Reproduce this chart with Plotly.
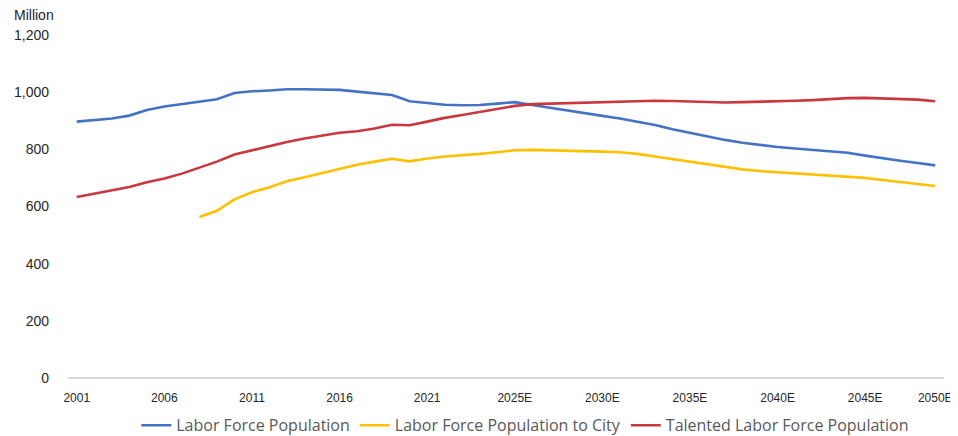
import plotly.graph_objects as go

# one point per year, 2001 .. 2050E
years = list(range(2001, 2051))

labor_force = [
    897, 902, 908, 918, 938, 950, 958, 965, 975, 997,
    1003, 1006, 1010, 1010, 1010, 1008, 1002, 996, 990, 968,
    963, 956, 954, 955, 960, 965, 955, 945, 935, 925,
    917, 908, 897, 885, 870, 857, 845, 833, 823, 815,
    808, 803, 798, 794, 788, 778, 768, 760, 752, 744,
]

# starts in 2008
labor_force_city = [None] * 7 + [
    563, 585, 625, 650, 667, 688, 702, 717, 733, 746,
    757, 767, 758, 768, 775, 779, 784, 790, 797, 798,
    797, 795, 793, 792, 790, 784, 775, 766, 756, 747,
    738, 730, 724, 720, 717, 714, 710, 705, 700, 693,
    686, 679, 672,
]

talented_labor_force = [
    633, 645, 656, 668, 685, 698, 715, 735, 757, 782,
    797, 812, 826, 838, 848, 858, 863, 873, 886, 884,
    897, 910, 920, 930, 940, 952, 958, 960, 962, 964,
    966, 968, 970, 970, 969, 967, 964, 964, 965, 966,
    967, 970, 972, 976, 979, 980, 978, 976, 974, 968,
]

tick_labels = ["2001", "2006", "2011", "2016", "2021", "2025E",
               "2030E", "2035E", "2040E", "2045E", "2050E"]
tick_index = [0, 5, 10, 15, 20, 25, 30, 35, 40, 45, 49]

series = [
    ("Labor Force Population", labor_force, "#4472C4"),
    ("Labor Force Population to City", labor_force_city, "#FFC000"),
    ("Talented Labor Force Population", talented_labor_force, "#C9373F"),
]

x = list(range(len(years)))

fig = go.Figure()
for name, values, color in series:
    fig.add_trace(
        go.Scatter(
            x=x,
            y=values,
            name=name,
            mode="lines",
            line=dict(color=color, width=2.6),
        )
    )

# page body has an 8px margin, so the figure is 8px smaller than the window
fig.update_layout(
    width=950,
    height=428,
    margin=dict(l=60, r=14, t=27, b=58),
    paper_bgcolor="white",
    plot_bgcolor="white",
    font=dict(family="Liberation Sans, Arial, sans-serif", color="#404040"),
    legend=dict(
        orientation="h",
        x=0.522,
        xanchor="center",
        yref="container",
        y=0.025,
        yanchor="middle",
        font=dict(size=16, color="#595959", family="Open Sans, sans-serif"),
        itemwidth=30,
        traceorder="normal",
    ),
    xaxis=dict(
        range=[-0.5, 49.5],
        automargin=False,
        tickmode="array",
        tickvals=tick_index,
        ticktext=tick_labels,
        showgrid=False,
        zeroline=False,
        showline=False,
        ticks="",
        tickfont=dict(size=12, color="#262626",
                      family="Liberation Sans Narrow, Arial Narrow, sans-serif"),
        ticklabelstandoff=11,
    ),
    yaxis=dict(
        range=[0, 1200],
        automargin=False,
        tickvals=[0, 200, 400, 600, 800, 1000, 1200],
        tickformat=",",
        showgrid=False,
        zeroline=True,
        zerolinecolor="#D9D9D9",
        zerolinewidth=1.5,
        showline=False,
        ticks="",
        tickfont=dict(size=14, color="#262626"),
        ticklabelstandoff=18,
    ),
    annotations=[
        dict(
            text="Million",
            xref="paper",
            yref="paper",
            x=-0.064,
            y=1.058,
            xanchor="left",
            yanchor="middle",
            showarrow=False,
            font=dict(size=14, color="#262626"),
        )
    ],
)

fig.write_html("out.html")
